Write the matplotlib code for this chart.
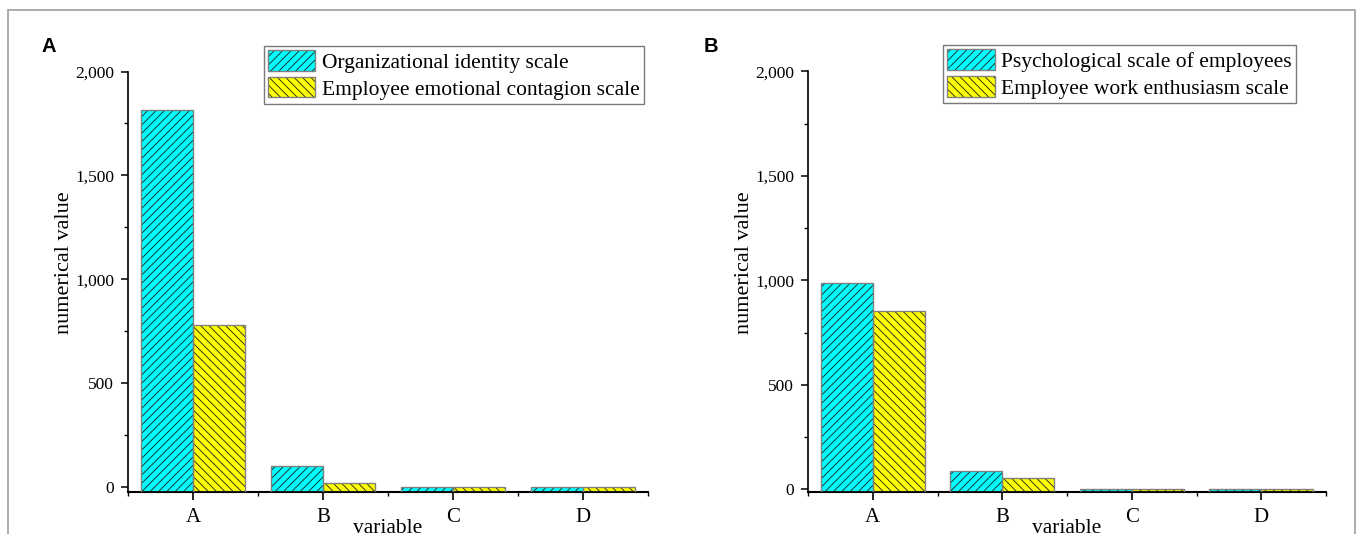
import matplotlib
matplotlib.use("Agg")
import matplotlib.pyplot as plt
from matplotlib.patches import Rectangle
from matplotlib.legend_handler import HandlerTuple
from matplotlib.ticker import MultipleLocator, FuncFormatter, FixedLocator
import numpy as np

categories = ["A", "B", "C", "D"]

# Panel A
a_series1_name = "Organizational identity scale"
a_series2_name = "Employee emotional contagion scale"
a_series1 = [1817, 104, 2, 4]
a_series2 = [783, 19, 2, 4]

# Panel B
b_series1_name = "Psychological scale of employees"
b_series2_name = "Employee work enthusiasm scale"
b_series1 = [989, 88, 2, 3]
b_series2 = [855, 56, 2, 3]

y_ticks = [0, 500, 1000, 1500, 2000]

plt.rcParams["font.family"] = ["Liberation Serif", "DejaVu Serif"]
plt.rcParams["hatch.linewidth"] = 0.6

W, H = 1357, 534
fig = plt.figure(figsize=(W / 100, H / 100), dpi=100)

CYAN = "#00FFFF"
YELLOW = "#FFFF00"
HATCH_C = "#1a1a1a"
EDGE_C = "#808080"


def panel(rect, s1, s2, n1, n2, ymin, legend_anchor, letter, letter_x):
    ax = fig.add_axes(rect)
    x = np.arange(len(categories))
    w = 0.4
    handles = []
    for vals, off, col, hat, name in [
        (s1, -w / 2, CYAN, "////", n1),
        (s2, w / 2, YELLOW, "\\\\\\\\", n2),
    ]:
        heights = np.array(vals) - ymin
        b1 = ax.bar(x + off, heights, w, bottom=ymin, color=col, hatch=hat,
                    edgecolor=HATCH_C, linewidth=0, zorder=2)
        b2 = ax.bar(x + off, heights, w, bottom=ymin, fill=False,
                    edgecolor=EDGE_C, linewidth=1.0, zorder=3)
        handles.append(((b1.patches[0], b2.patches[0]), name))

    ax.set_xlim(-0.5, len(categories) - 0.5)
    ax.set_ylim(ymin, 2000)
    ax.set_xticks(x)
    ax.set_xticklabels(categories)
    ax.xaxis.set_minor_locator(FixedLocator(np.arange(-0.5, len(categories), 1.0)))
    ax.set_yticks(y_ticks)
    ax.yaxis.set_major_formatter(FuncFormatter(lambda v, p: f"{int(v):,}"))
    ax.yaxis.set_minor_locator(MultipleLocator(250))

    for s in ["top", "right"]:
        ax.spines[s].set_visible(False)
    ax.spines["left"].set_linewidth(1.2)
    ax.spines["bottom"].set_linewidth(1.5)

    ax.tick_params(axis="y", which="major", direction="out", length=5, width=1.1,
                   labelsize=12.5, pad=5)
    ax.tick_params(axis="y", which="minor", direction="out", length=3, width=1.0)
    ax.tick_params(axis="x", which="major", direction="out", length=5.8, width=1.2,
                   labelsize=15, pad=6)
    ax.tick_params(axis="x", which="minor", direction="out", length=3, width=1.0)

    ax.set_ylabel("numerical value", fontsize=16)
    ax.yaxis.set_label_coords(-0.122, 0.545)
    ax.yaxis.label.set_va("center")
    ax.set_xlabel("variable", fontsize=15.5)
    ax.xaxis.set_label_coords(0.5, -0.098)
    ax.xaxis.label.set_va("baseline")

    leg = ax.legend([h for h, _ in handles], [n for _, n in handles],
                    handler_map={tuple: HandlerTuple(ndivide=1, pad=0)},
                    loc="upper right", bbox_to_anchor=legend_anchor,
                    fontsize=15.5, frameon=True, fancybox=False, framealpha=1,
                    edgecolor="#7a7a7a", borderpad=0.2, labelspacing=0.2,
                    handlelength=2.2, handleheight=1.08, handletextpad=0.3,
                    borderaxespad=0)
    leg.get_frame().set_linewidth(1.0)

    fig.text(letter_x / W, 1 - 52 / H, letter, fontsize=14.5, fontweight="bold",
             family=["Liberation Sans", "DejaVu Sans"], ha="left", va="baseline")
    return ax


ax_bottom = (H - 491.5) / H
ax_height = 420 / H
panel([128 / W, ax_bottom, 520 / W, ax_height], a_series1, a_series2,
      a_series1_name, a_series2_name, -20, (0.992, 1.061), "A", 42)
panel([808 / W, ax_bottom, 518 / W, ax_height], b_series1, b_series2,
      b_series1_name, b_series2_name, -10, (0.942, 1.063), "B", 704)

# outer gray frame
fig.patches.append(Rectangle((8 / W, -0.1), (1355 - 8) / W, 1.1 - 10 / H,
                             transform=fig.transFigure, fill=False,
                             edgecolor="#a6a6a6", linewidth=1.3))

fig.savefig("out.png", dpi=100)
